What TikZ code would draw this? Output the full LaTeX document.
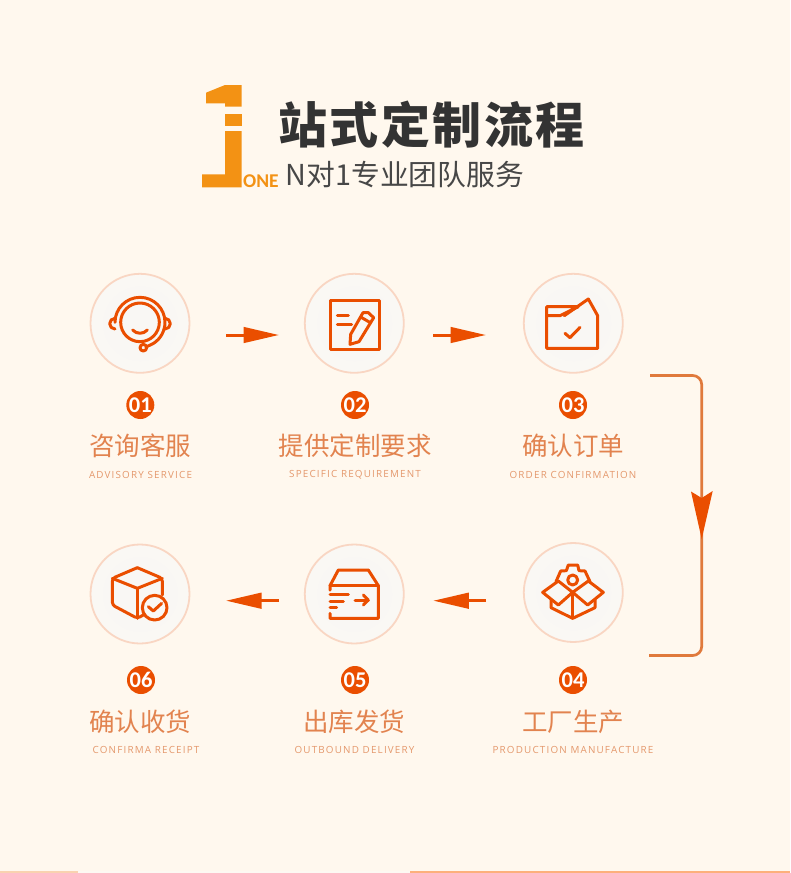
\documentclass[tikz,border=0pt]{standalone}
\usepackage{fontspec}
\usetikzlibrary{arrows.meta,shapes.geometric}
\setmainfont{Noto Sans CJK SC}
\newfontfamily\cjkt[LetterSpace=5]{Noto Sans CJK SC}
\newfontfamily\cjks{Noto Sans CJK SC}
\newfontfamily\latn[LetterSpace=12]{Open Sans}
\newfontfamily\numf{Carlito}
\definecolor{bgc}{HTML}{FFF8EE}
\definecolor{red1}{HTML}{EA4E00}
\definecolor{line1}{HTML}{E07A3C}
\definecolor{ring}{HTML}{F9D6C3}
\definecolor{lab}{HTML}{E2834F}
\definecolor{sub}{HTML}{E4986C}
\definecolor{logo}{HTML}{F39214}
\definecolor{ink}{HTML}{333333}
\definecolor{discin}{HTML}{F9F7F4}
\definecolor{discmid}{HTML}{FAF8F4}
\definecolor{discout}{HTML}{FEFBF7}
\definecolor{paper}{HTML}{FDF9F3}
\pgfdeclareradialshading{discshade}{\pgfpoint{0bp}{0bp}}{color(0bp)=(discin); color(38bp)=(discmid); color(50bp)=(discout)}
\tikzset{
  x=1pt,y=-1pt,
  stepcircle/.style={circle,minimum size=99pt,inner sep=0pt,draw=ring,line width=1.8pt,shading=discshade},
  numdot/.style={circle,minimum size=28pt,inner sep=0pt,fill=red1,text=white,font=\numf\bfseries\fontsize{22.5}{24}\selectfont},
  labeltext/.style={text=lab,inner sep=0pt,font=\cjks\fontsize{25.5}{28}\selectfont},
  subtext/.style={text=sub,inner sep=0pt,font=\latn\fontsize{9.85}{12}\selectfont},
  icon/.style={draw=red1,line width=3pt,line cap=round,line join=round},
  smallarrow/.style={draw=red1,line width=3pt,-{Triangle[length=35.5pt,width=15.5pt]}},
  zoomA/.style={shift={(#1)},x=.33333pt,y=-.33333pt}
}
\begin{document}
\begin{tikzpicture}
\useasboundingbox (0,0) rectangle (790,873);
\fill[bgc] (0,0) rectangle (790,873);
% bottom strip
\fill[paper] (78,871) rectangle (410,873);
\fill[color={rgb,255:red,249;green,210;blue,176}] (0,871) rectangle (78,873);
\fill[color={rgb,255:red,253;green,176;blue,124}] (410,871) rectangle (790,873);
% logo
\fill[logo] (225,85) -- (241.7,85) -- (241.7,106.7) -- (225,106.7) -- (225,103.3) -- (206,103.3) -- (206,92.7) -- cycle;
\fill[logo] (225,114) rectangle (241.7,125.7);
\fill[logo] (225,131) -- (241.7,131) -- (241.7,187.3) -- (202,187.3) -- (202,174.3) -- (225,174.3) -- cycle;
\node[anchor=base west,inner sep=0pt,text=logo,font=\numf\bfseries\fontsize{19.5}{22}\selectfont] (one) at (243,187.3) {ONE};
\node[anchor=west,inner sep=0pt,text=ink,font=\cjkt\bfseries\fontsize{49}{52}\selectfont] (title) at (278,125) {站式定制流程};
\node[anchor=west,inner sep=0pt,text=ink!90,font=\cjks\fontsize{28.8}{32}\selectfont] (subtitle) at (285.5,175) {N对1专业团队服务};
% step circles
\node[stepcircle] (c1) at (140,323.3) {};
\node[stepcircle] (c2) at (354.3,323.3) {};
\node[stepcircle] (c3) at (573.3,323.3) {};
\node[stepcircle] (c4) at (573.3,592.5) {};
\node[stepcircle] (c5) at (354.3,594) {};
\node[stepcircle] (c6) at (140,594) {};
% numbers
\node[numdot] (n1) at (140.3,405) {01};
\node[numdot] (n2) at (355,405) {02};
\node[numdot] (n3) at (573,405) {03};
\node[numdot] (n4) at (573,680) {04};
\node[numdot] (n5) at (355,680) {05};
\node[numdot] (n6) at (141,680) {06};
% labels
\node[labeltext] (l1) at (140,446) {咨询客服};
\node[labeltext] (l2) at (355,446) {提供定制要求};
\node[labeltext] (l3) at (573,446) {确认订单};
\node[labeltext] (l4) at (573,722) {工厂生产};
\node[labeltext] (l5) at (354,722) {出库发货};
\node[labeltext] (l6) at (140,722) {确认收货};
\node[subtext] (e1) at (140.5,474.5) {ADVISORY SERVICE};
\node[subtext] (e2) at (355,474.5) {SPECIFIC REQUIREMENT};
\node[subtext] (e3) at (573,474.5) {ORDER CONFIRMATION};
\node[subtext] (e4) at (573,749.5) {PRODUCTION MANUFACTURE};
\node[subtext] (e5) at (354.5,749.5) {OUTBOUND DELIVERY};
\node[subtext] (e6) at (146,749.5) {CONFIRMA RECEIPT};
% small arrows
\coordinate (a1s) at (226,335); \coordinate (a1e) at (279,335);
\coordinate (a2s) at (433.3,335); \coordinate (a2e) at (486,335);
\coordinate (a3s) at (486,600.7); \coordinate (a3e) at (433.3,600.7);
\coordinate (a4s) at (279,600.7); \coordinate (a4e) at (226,600.7);
\draw[smallarrow] (a1s) -- (a1e);
\draw[smallarrow] (a2s) -- (a2e);
\draw[smallarrow] (a3s) -- (a3e);
\draw[smallarrow] (a4s) -- (a4e);
% big connector
\coordinate (bt) at (650,375.5);
\coordinate (bc) at (701.7,375.5);
\coordinate (bm) at (701.7,539);
\coordinate (bd) at (701.7,655.5);
\coordinate (bb) at (649,655.5);
\draw[line1,line width=2.7pt,rounded corners=9pt] (bt) -- (bc) -- (bd) -- (bb);
\fill[red1] (691,491.5) -- (701.7,498) -- (712.7,491) -- (bm) -- cycle;
% icon 1 headset
\begin{scope}[zoomA={80,265}]
\draw[icon] (180,172) circle (58);
\draw[icon] (105,172) arc (180:360:75) arc (0:58:75) -- (198,246);
\draw[icon] (190,248) circle (10);
\draw[icon] (105,160) arc (-90:-270:16);
\draw[icon] (255,160) arc (-90:90:16);
\draw[icon] (158,195) .. controls (170,208) and (190,208) .. (202,195);
\end{scope}
% icon 2 note
\begin{scope}[zoomA={295,265}]
\draw[icon] (107,107) rectangle (253,253);
\draw[icon] (127,152) -- (160,152);
\draw[icon] (127,178) -- (170,178);
\draw[icon] (204,143) -- (220,143) -- (236,158) -- (192,230) -- (165,238) -- (167,208) -- cycle;
\draw[icon] (197,156) -- (226,173);
% icon 3 folder
\draw[icon] (755,152) -- (755,250) -- (908,250) -- (908,152) -- (880,102) -- (808,152);
\draw[icon] (755,152) -- (795,152) -- (850,125) -- (755,125) -- (755,152);
\draw[icon] (810,205) -- (825,218) -- (855,187);
\end{scope}
\begin{scope}[zoomA={295,535}]
% icon 5 box
\draw[icon] (105,165) -- (105,152) -- (130,105) -- (220,105) -- (250,152) -- (250,250) -- (105,250) -- (105,235);
\draw[icon] (105,152) -- (250,152);
\draw[icon] (105,178) -- (160,178);
\draw[icon] (105,198) -- (145,198);
\draw[icon] (105,218) -- (125,218);
\draw[icon] (180,195) -- (220,195);
\draw[icon] (205,180) -- (220,195) -- (205,210);
% icon 4 gears
\draw[icon] (768,195) -- (768,218) -- (833,250) -- (900,218) -- (900,195);
\draw[icon] (833,172) -- (833,250);
\draw[icon] (790,138) -- (743,172) -- (790,210) -- (833,172) -- cycle;
\draw[icon] (880,138) -- (925,172) -- (878,210) -- (833,172) -- cycle;
\draw[icon] (783,140) -- (797,108) -- (814,107) -- (820,90) -- (848,90) -- (852,107) -- (870,108) -- (885,140);
\draw[icon] (833,135) circle (15);
\end{scope}
% icon 6 cube
\begin{scope}[zoomA={80,535}]
\draw[icon,rounded corners=3pt] (172,98) -- (247,130) -- (247,180);
\draw[icon,rounded corners=3pt] (172,98) -- (97,130) -- (97,210) -- (172,250) -- (190,240);
\draw[icon] (97,130) -- (172,160) -- (247,130);
\draw[icon] (172,160) -- (172,250);
\draw[icon,fill=discmid,line width=3pt] (224,218) circle (37);
\draw[icon] (205,215) -- (220,228) -- (245,205);
\end{scope}
\end{tikzpicture}
\end{document}
